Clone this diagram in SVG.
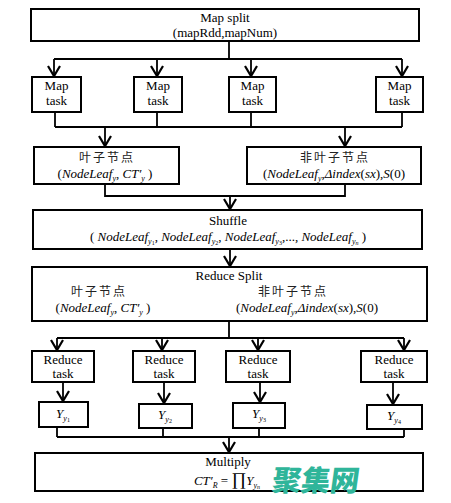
<svg xmlns="http://www.w3.org/2000/svg" width="451" height="503" viewBox="0 0 451 503">
<style>
.box{fill:#fff;stroke:#000;stroke-width:2}
.ln{fill:none;stroke:#000;stroke-width:1.8}
.t{font-family:"Liberation Serif","Times New Roman",serif;font-size:13px;fill:#000;text-anchor:middle}
.i{font-style:italic}
.cn{font-family:"Noto Sans CJK SC",sans-serif;font-size:12px;letter-spacing:2px;fill:#222;text-anchor:middle}
.s{font-size:8px}
.ss{font-size:6px}
.wm{font-family:"Noto Sans CJK SC",sans-serif;font-weight:900;font-size:29px;fill:#2fb59a}
</style>
<defs>
<marker id="arr" markerUnits="userSpaceOnUse" markerWidth="14" markerHeight="14" viewBox="0 0 14 14" refX="11" refY="7" orient="auto">
<path d="M1,1 L11,7 L1,13" fill="none" stroke="#000" stroke-width="2.2"/>
</marker>
</defs>
<rect width="451" height="503" fill="#fff"/>

<g id="connectors">
<path class="ln" d="M229,41 V59 M54,59 H402"/>
<path class="ln" d="M54,59 V76" marker-end="url(#arr)"/>
<path class="ln" d="M157,59 V76" marker-end="url(#arr)"/>
<path class="ln" d="M251,59 V76" marker-end="url(#arr)"/>
<path class="ln" d="M402,59 V76" marker-end="url(#arr)"/>
<path class="ln" d="M55,112 V127 M157,112 V127 M251,112 V127 M402,112 V127 M55,127 H402"/>
<path class="ln" d="M105,127 V146" marker-end="url(#arr)"/>
<path class="ln" d="M345,127 V146" marker-end="url(#arr)"/>
<path class="ln" d="M105,184 V196 H345 V184"/>
<path class="ln" d="M230,196 V209" marker-end="url(#arr)"/>
<path class="ln" d="M230,249 V266" marker-end="url(#arr)"/>
<path class="ln" d="M229,321 V338 M57,338 H404"/>
<path class="ln" d="M57,338 V350" marker-end="url(#arr)"/>
<path class="ln" d="M162,338 V350" marker-end="url(#arr)"/>
<path class="ln" d="M258,338 V350" marker-end="url(#arr)"/>
<path class="ln" d="M404,338 V350" marker-end="url(#arr)"/>
<path class="ln" d="M63,382 V401" marker-end="url(#arr)"/>
<path class="ln" d="M164,382 V403" marker-end="url(#arr)"/>
<path class="ln" d="M260,382 V402" marker-end="url(#arr)"/>
<path class="ln" d="M393,382 V404" marker-end="url(#arr)"/>
<path class="ln" d="M57,427 V437 M163,428 V437 M259,428 V437 M404,429 V437 M57,437 H404"/>
<path class="ln" d="M229,437 V452" marker-end="url(#arr)"/>
</g>

<g id="map-split">
<rect class="box" x="31" y="9" width="388" height="32"/>
<text class="t" x="225" y="22">Map split</text>
<text class="t" x="225" y="37">(mapRdd,mapNum)</text>
</g>

<g id="map-task-1">
<rect class="box" x="32" y="77" width="49" height="35"/>
<text class="t" x="56.5" y="90">Map</text><text class="t" x="56.5" y="105">task</text>
</g>
<g id="map-task-2">
<rect class="box" x="134" y="77" width="48" height="35"/>
<text class="t" x="158" y="90">Map</text><text class="t" x="158" y="105">task</text>
</g>
<g id="map-task-3">
<rect class="box" x="229" y="77" width="47" height="35"/>
<text class="t" x="252.5" y="90">Map</text><text class="t" x="252.5" y="105">task</text>
</g>
<g id="map-task-4">
<rect class="box" x="376" y="77" width="47" height="35"/>
<text class="t" x="399.5" y="90">Map</text><text class="t" x="399.5" y="105">task</text>
</g>

<g id="leaf">
<rect class="box" x="34" y="147" width="145" height="37"/>
<text class="cn" x="107" y="162">叶子节点</text>
<text class="t" x="105" y="178">(<tspan class="i">NodeLeaf</tspan><tspan class="i s" dy="3">y</tspan><tspan dy="-3">, </tspan><tspan class="i">CT′</tspan><tspan class="i s" dy="3">y</tspan><tspan dy="-3"> )</tspan></text>
</g>

<g id="non-leaf">
<rect class="box" x="247" y="147" width="174" height="37"/>
<text class="cn" x="335" y="162">非叶子节点</text>
<text class="t" x="334" y="178">(<tspan class="i">NodeLeaf</tspan><tspan class="i s" dy="3">y</tspan><tspan dy="-3">,</tspan><tspan class="i">Δindex</tspan>(<tspan class="i">sx</tspan>),<tspan class="i">S</tspan>(0)</text>
</g>

<g id="shuffle">
<rect class="box" x="33" y="210" width="389" height="39"/>
<text class="t" x="228" y="225">Shuffle</text>
<text class="t" x="228" y="241">( <tspan class="i">NodeLeaf</tspan><tspan class="i s" dy="3">y</tspan><tspan class="ss" dy="1">1</tspan><tspan dy="-4">, </tspan><tspan class="i">NodeLeaf</tspan><tspan class="i s" dy="3">y</tspan><tspan class="ss" dy="1">2</tspan><tspan dy="-4">, </tspan><tspan class="i">NodeLeaf</tspan><tspan class="i s" dy="3">y</tspan><tspan class="ss" dy="1">3</tspan><tspan dy="-4">,..., </tspan><tspan class="i">NodeLeaf</tspan><tspan class="i s" dy="3">y</tspan><tspan class="i ss" dy="1">n</tspan><tspan dy="-4"> )</tspan></text>
</g>

<g id="reduce-split">
<rect class="box" x="32" y="267" width="395" height="54"/>
<text class="t" x="229" y="280">Reduce Split</text>
<text class="cn" x="99" y="296">叶子节点</text>
<text class="cn" x="293" y="296">非叶子节点</text>
<text class="t" x="103" y="312">(<tspan class="i">NodeLeaf</tspan><tspan class="i s" dy="3">y</tspan><tspan dy="-3">, </tspan><tspan class="i">CT′</tspan><tspan class="i s" dy="3">y</tspan><tspan dy="-3"> )</tspan></text>
<text class="t" x="307" y="312">(<tspan class="i">NodeLeaf</tspan><tspan class="i s" dy="3">y</tspan><tspan dy="-3">,</tspan><tspan class="i">Δindex</tspan>(<tspan class="i">sx</tspan>),<tspan class="i">S</tspan>(0)</text>
</g>

<g id="reduce-task-1">
<rect class="box" x="32" y="351" width="62" height="31"/>
<text class="t" x="63" y="364">Reduce</text><text class="t" x="63" y="378">task</text>
</g>
<g id="reduce-task-2">
<rect class="box" x="133" y="351" width="62" height="31"/>
<text class="t" x="164" y="364">Reduce</text><text class="t" x="164" y="378">task</text>
</g>
<g id="reduce-task-3">
<rect class="box" x="226" y="351" width="64" height="31"/>
<text class="t" x="258" y="364">Reduce</text><text class="t" x="258" y="378">task</text>
</g>
<g id="reduce-task-4">
<rect class="box" x="361" y="351" width="66" height="31"/>
<text class="t" x="394" y="364">Reduce</text><text class="t" x="394" y="378">task</text>
</g>

<g id="y1">
<rect class="box" x="39" y="402" width="49" height="25"/>
<text class="t" x="63" y="418"><tspan class="i">Y</tspan><tspan class="i s" dy="3">y</tspan><tspan class="ss" dy="1">1</tspan></text>
</g>
<g id="y2">
<rect class="box" x="139" y="404" width="53" height="24"/>
<text class="t" x="165" y="419"><tspan class="i">Y</tspan><tspan class="i s" dy="3">y</tspan><tspan class="ss" dy="1">2</tspan></text>
</g>
<g id="y3">
<rect class="box" x="233" y="403" width="52" height="25"/>
<text class="t" x="259" y="418"><tspan class="i">Y</tspan><tspan class="i s" dy="3">y</tspan><tspan class="ss" dy="1">3</tspan></text>
</g>
<g id="y4">
<rect class="box" x="367" y="405" width="55" height="24"/>
<text class="t" x="394" y="420"><tspan class="i">Y</tspan><tspan class="i s" dy="3">y</tspan><tspan class="ss" dy="1">4</tspan></text>
</g>

<g id="multiply">
<rect class="box" x="35" y="453" width="388" height="38"/>
<text class="t" x="228" y="466">Multiply</text>
<text class="t" x="227" y="485"><tspan class="i">CT′</tspan><tspan class="i s" dy="3">R</tspan><tspan dy="-3"> = </tspan><tspan font-size="18">∏</tspan><tspan class="i">Y</tspan><tspan class="i s" dy="3">y</tspan><tspan class="i ss" dy="1">n</tspan></text>
</g>

<text class="wm" x="271" y="491" transform="skewX(-8)" transform-origin="271 491">聚集网</text>
</svg>
